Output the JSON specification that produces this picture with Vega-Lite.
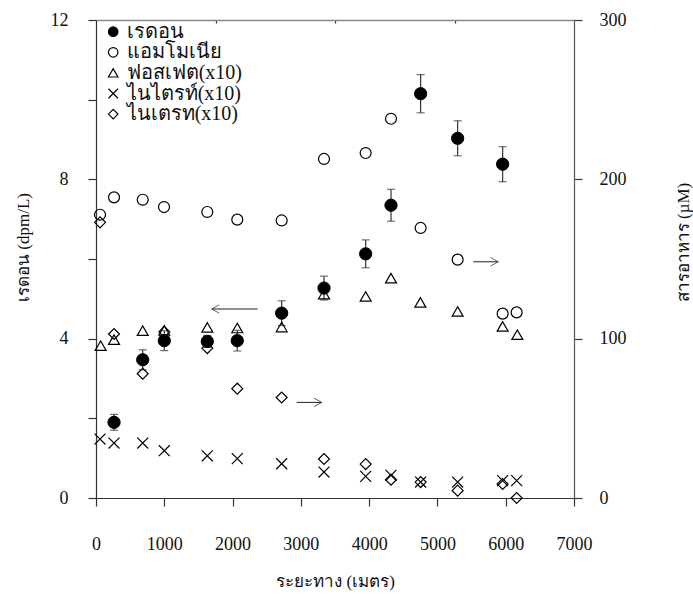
{
  "$schema": "https://vega.github.io/schema/vega-lite/v6.json",
  "width": 478,
  "height": 478,
  "autosize": {"type": "none"},
  "padding": {"left": 96, "top": 20, "right": 119, "bottom": 96},
  "background": "white",
  "config": {
    "view": {"stroke": null},
    "font": "Liberation Serif",
    "axis": {
      "labelFont": "Liberation Serif", "labelFontSize": 18, "labelColor": "#111",
      "titleFont": "Liberation Serif", "titleFontSize": 17, "titleColor": "#111", "titleFontWeight": "normal",
      "grid": false, "domainColor": "#333", "tickColor": "#333", "tickSize": 8,
      "domainWidth": 1.2, "tickWidth": 1.2, "labelFlush": false
    },
    "legend": {
      "orient": "none", "legendX": 7.2, "legendY": 1.7, "padding": 0,
      "labelFont": "Liberation Serif", "labelFontSize": 20, "labelColor": "#111",
      "symbolSize": 90, "symbolStrokeWidth": 1.2, "symbolStrokeColor": "black",
      "rowPadding": 0.6, "labelOffset": 3.5, "title": null
    }
  },
  "datasets": {
    "radon": [
      {"d": 264, "series": "เรดอน", "v": 1.90, "lo": 1.70, "hi": 2.10},
      {"d": 684, "series": "เรดอน", "v": 3.47, "lo": 3.22, "hi": 3.72},
      {"d": 1000, "series": "เรดอน", "v": 3.95, "lo": 3.70, "hi": 4.20},
      {"d": 1630, "series": "เรดอน", "v": 3.93, "lo": 3.78, "hi": 4.08},
      {"d": 2069, "series": "เรดอน", "v": 3.95, "lo": 3.69, "hi": 4.21},
      {"d": 2719, "series": "เรดอน", "v": 4.64, "lo": 4.33, "hi": 4.95},
      {"d": 3339, "series": "เรดอน", "v": 5.27, "lo": 4.97, "hi": 5.57},
      {"d": 3949, "series": "เรดอน", "v": 6.13, "lo": 5.78, "hi": 6.48},
      {"d": 4320, "series": "เรดอน", "v": 7.35, "lo": 6.95, "hi": 7.75},
      {"d": 4754, "series": "เรดอน", "v": 10.15, "lo": 9.67, "hi": 10.63},
      {"d": 5296, "series": "เรดอน", "v": 9.03, "lo": 8.59, "hi": 9.47},
      {"d": 5955, "series": "เรดอน", "v": 8.38, "lo": 7.94, "hi": 8.82}
    ],
    "nutrients": [
      {"d": 59, "series": "แอมโมเนีย", "v": 177.8},
      {"d": 264, "series": "แอมโมเนีย", "v": 188.7},
      {"d": 684, "series": "แอมโมเนีย", "v": 187.2},
      {"d": 996, "series": "แอมโมเนีย", "v": 182.6},
      {"d": 1630, "series": "แอมโมเนีย", "v": 179.5},
      {"d": 2069, "series": "แอมโมเนีย", "v": 174.7},
      {"d": 2719, "series": "แอมโมเนีย", "v": 174.2},
      {"d": 3339, "series": "แอมโมเนีย", "v": 212.8},
      {"d": 3949, "series": "แอมโมเนีย", "v": 216.5},
      {"d": 4320, "series": "แอมโมเนีย", "v": 238.0},
      {"d": 4754, "series": "แอมโมเนีย", "v": 169.5},
      {"d": 5296, "series": "แอมโมเนีย", "v": 149.6},
      {"d": 5955, "series": "แอมโมเนีย", "v": 115.7},
      {"d": 6160, "series": "แอมโมเนีย", "v": 116.5},
      {"d": 68, "series": "ฟอสเฟต(x10)", "v": 95.6},
      {"d": 264, "series": "ฟอสเฟต(x10)", "v": 99.4},
      {"d": 684, "series": "ฟอสเฟต(x10)", "v": 105.0},
      {"d": 1000, "series": "ฟอสเฟต(x10)", "v": 105.2},
      {"d": 1630, "series": "ฟอสเฟต(x10)", "v": 107.1},
      {"d": 2069, "series": "ฟอสเฟต(x10)", "v": 106.7},
      {"d": 2719, "series": "ฟอสเฟต(x10)", "v": 107.3},
      {"d": 3339, "series": "ฟอสเฟต(x10)", "v": 128.0},
      {"d": 3949, "series": "ฟอสเฟต(x10)", "v": 126.5},
      {"d": 4320, "series": "ฟอสเฟต(x10)", "v": 138.0},
      {"d": 4750, "series": "ฟอสเฟต(x10)", "v": 122.8},
      {"d": 5296, "series": "ฟอสเฟต(x10)", "v": 117.1},
      {"d": 5955, "series": "ฟอสเฟต(x10)", "v": 107.7},
      {"d": 6170, "series": "ฟอสเฟต(x10)", "v": 102.5},
      {"d": 59, "series": "ไนไตรท์(x10)", "v": 37.0},
      {"d": 264, "series": "ไนไตรท์(x10)", "v": 34.5},
      {"d": 684, "series": "ไนไตรท์(x10)", "v": 34.5},
      {"d": 1000, "series": "ไนไตรท์(x10)", "v": 29.7},
      {"d": 1630, "series": "ไนไตรท์(x10)", "v": 26.5},
      {"d": 2069, "series": "ไนไตรท์(x10)", "v": 24.7},
      {"d": 2719, "series": "ไนไตรท์(x10)", "v": 21.5},
      {"d": 3339, "series": "ไนไตรท์(x10)", "v": 16.3},
      {"d": 3949, "series": "ไนไตรท์(x10)", "v": 13.6},
      {"d": 4320, "series": "ไนไตรท์(x10)", "v": 14.2},
      {"d": 4754, "series": "ไนไตรท์(x10)", "v": 10.0},
      {"d": 5296, "series": "ไนไตรท์(x10)", "v": 10.0},
      {"d": 5955, "series": "ไนไตรท์(x10)", "v": 10.9},
      {"d": 6160, "series": "ไนไตรท์(x10)", "v": 10.9},
      {"d": 59, "series": "ไนเตรท(x10)", "v": 173.0},
      {"d": 264, "series": "ไนเตรท(x10)", "v": 102.9},
      {"d": 684, "series": "ไนเตรท(x10)", "v": 78.0},
      {"d": 1000, "series": "ไนเตรท(x10)", "v": 104.3},
      {"d": 1630, "series": "ไนเตรท(x10)", "v": 94.1},
      {"d": 2069, "series": "ไนเตรท(x10)", "v": 68.6},
      {"d": 2719, "series": "ไนเตรท(x10)", "v": 63.1},
      {"d": 3339, "series": "ไนเตรท(x10)", "v": 24.5},
      {"d": 3949, "series": "ไนเตรท(x10)", "v": 21.3},
      {"d": 4320, "series": "ไนเตรท(x10)", "v": 11.5},
      {"d": 4754, "series": "ไนเตรท(x10)", "v": 10.0},
      {"d": 5296, "series": "ไนเตรท(x10)", "v": 4.6},
      {"d": 5955, "series": "ไนเตรท(x10)", "v": 8.8},
      {"d": 6160, "series": "ไนเตรท(x10)", "v": 0.0}
    ],
    "arrows": [
      {"d": 1694, "d2": 2368, "v": 4.745, "dir": "L"},
      {"d": 3305, "d2": 2939, "v": 2.40, "dir": "R"},
      {"d": 5891, "d2": 5525, "v": 5.93, "dir": "R"}
    ]
  },
  "layer": [
    {
      "layer": [
        {
          "data": {"name": "arrows"},
          "mark": {"type": "rule", "stroke": "#222", "strokeWidth": 1},
          "encoding": {
            "x": {"field": "d", "type": "quantitative", "scale": {"domain": [0, 7000], "nice": false},
              "axis": {"orient": "bottom", "values": [0, 1000, 2000, 3000, 4000, 5000, 6000, 7000], "format": "d", "title": "ระยะทาง (เมตร)", "labelPadding": 29, "titleY": 83, "titleBaseline": "middle"}},
            "x2": {"field": "d2"},
            "y": {"field": "v", "type": "quantitative", "scale": {"domain": [0, 12], "nice": false},
              "axis": {"orient": "left", "values": [0, 2, 4, 6, 8, 10, 12], "labelExpr": "datum.value % 4 == 0 ? datum.label : ''", "title": "เรดอน (dpm/L)", "labelPadding": 20, "titleX": -73, "titleY": 227, "titleAngle": -90, "titleAlign": "center", "titleBaseline": "middle"}}
          }
        },
        {
          "data": {"name": "arrows"},
          "transform": [{"filter": "datum.dir == 'L'"}],
          "mark": {"type": "point", "shape": "M0,0L1,-0.55M0,0L1,0.55", "size": 230, "filled": false, "stroke": "#222", "strokeWidth": 1},
          "encoding": {
            "x": {"field": "d", "type": "quantitative", "scale": {"domain": [0, 7000], "nice": false},
              "axis": {"orient": "bottom", "values": [0, 1000, 2000, 3000, 4000, 5000, 6000, 7000], "format": "d", "title": "ระยะทาง (เมตร)", "labelPadding": 29, "titleY": 83, "titleBaseline": "middle"}},
            "y": {"field": "v", "type": "quantitative", "scale": {"domain": [0, 12], "nice": false},
              "axis": {"orient": "left", "values": [0, 2, 4, 6, 8, 10, 12], "labelExpr": "datum.value % 4 == 0 ? datum.label : ''", "title": "เรดอน (dpm/L)", "labelPadding": 20, "titleX": -73, "titleY": 227, "titleAngle": -90, "titleAlign": "center", "titleBaseline": "middle"}}
          }
        },
        {
          "data": {"name": "arrows"},
          "transform": [{"filter": "datum.dir == 'R'"}],
          "mark": {"type": "point", "shape": "M0,0L-1,-0.55M0,0L-1,0.55", "size": 230, "filled": false, "stroke": "#222", "strokeWidth": 1},
          "encoding": {
            "x": {"field": "d", "type": "quantitative", "scale": {"domain": [0, 7000], "nice": false},
              "axis": {"orient": "bottom", "values": [0, 1000, 2000, 3000, 4000, 5000, 6000, 7000], "format": "d", "title": "ระยะทาง (เมตร)", "labelPadding": 29, "titleY": 83, "titleBaseline": "middle"}},
            "y": {"field": "v", "type": "quantitative", "scale": {"domain": [0, 12], "nice": false},
              "axis": {"orient": "left", "values": [0, 2, 4, 6, 8, 10, 12], "labelExpr": "datum.value % 4 == 0 ? datum.label : ''", "title": "เรดอน (dpm/L)", "labelPadding": 20, "titleX": -73, "titleY": 227, "titleAngle": -90, "titleAlign": "center", "titleBaseline": "middle"}}
          }
        },
        {
          "data": {"name": "radon"},
          "mark": {"type": "rule", "stroke": "#333", "strokeWidth": 1.2},
          "encoding": {
            "x": {"field": "d", "type": "quantitative", "scale": {"domain": [0, 7000], "nice": false},
              "axis": {"orient": "bottom", "values": [0, 1000, 2000, 3000, 4000, 5000, 6000, 7000], "format": "d", "title": "ระยะทาง (เมตร)", "labelPadding": 29, "titleY": 83, "titleBaseline": "middle"}},
            "y": {"field": "lo", "type": "quantitative", "scale": {"domain": [0, 12], "nice": false},
              "axis": {"orient": "left", "values": [0, 2, 4, 6, 8, 10, 12], "labelExpr": "datum.value % 4 == 0 ? datum.label : ''", "title": "เรดอน (dpm/L)", "labelPadding": 20, "titleX": -73, "titleY": 227, "titleAngle": -90, "titleAlign": "center", "titleBaseline": "middle"}},
            "y2": {"field": "hi"}
          }
        },
        {
          "data": {"name": "radon"},
          "mark": {"type": "tick", "orient": "horizontal", "color": "#333", "size": 8, "thickness": 1.2},
          "encoding": {
            "x": {"field": "d", "type": "quantitative", "scale": {"domain": [0, 7000], "nice": false},
              "axis": {"orient": "bottom", "values": [0, 1000, 2000, 3000, 4000, 5000, 6000, 7000], "format": "d", "title": "ระยะทาง (เมตร)", "labelPadding": 29, "titleY": 83, "titleBaseline": "middle"}},
            "y": {"field": "lo", "type": "quantitative", "scale": {"domain": [0, 12], "nice": false},
              "axis": {"orient": "left", "values": [0, 2, 4, 6, 8, 10, 12], "labelExpr": "datum.value % 4 == 0 ? datum.label : ''", "title": "เรดอน (dpm/L)", "labelPadding": 20, "titleX": -73, "titleY": 227, "titleAngle": -90, "titleAlign": "center", "titleBaseline": "middle"}}
          }
        },
        {
          "data": {"name": "radon"},
          "mark": {"type": "tick", "orient": "horizontal", "color": "#333", "size": 8, "thickness": 1.2},
          "encoding": {
            "x": {"field": "d", "type": "quantitative", "scale": {"domain": [0, 7000], "nice": false},
              "axis": {"orient": "bottom", "values": [0, 1000, 2000, 3000, 4000, 5000, 6000, 7000], "format": "d", "title": "ระยะทาง (เมตร)", "labelPadding": 29, "titleY": 83, "titleBaseline": "middle"}},
            "y": {"field": "hi", "type": "quantitative", "scale": {"domain": [0, 12], "nice": false},
              "axis": {"orient": "left", "values": [0, 2, 4, 6, 8, 10, 12], "labelExpr": "datum.value % 4 == 0 ? datum.label : ''", "title": "เรดอน (dpm/L)", "labelPadding": 20, "titleX": -73, "titleY": 227, "titleAngle": -90, "titleAlign": "center", "titleBaseline": "middle"}}
          }
        },
        {
          "data": {"name": "radon"},
          "mark": {"type": "point", "filled": true, "size": 150, "strokeWidth": 1, "opacity": 1},
          "encoding": {
            "x": {"field": "d", "type": "quantitative", "scale": {"domain": [0, 7000], "nice": false},
              "axis": {"orient": "bottom", "values": [0, 1000, 2000, 3000, 4000, 5000, 6000, 7000], "format": "d", "title": "ระยะทาง (เมตร)", "labelPadding": 29, "titleY": 83, "titleBaseline": "middle"}},
            "y": {"field": "v", "type": "quantitative", "scale": {"domain": [0, 12], "nice": false},
              "axis": {"orient": "left", "values": [0, 2, 4, 6, 8, 10, 12], "labelExpr": "datum.value % 4 == 0 ? datum.label : ''", "title": "เรดอน (dpm/L)", "labelPadding": 20, "titleX": -73, "titleY": 227, "titleAngle": -90, "titleAlign": "center", "titleBaseline": "middle"}},
            "shape": {"field": "series", "type": "nominal",
              "scale": {"domain": ["เรดอน", "แอมโมเนีย", "ฟอสเฟต(x10)", "ไนไตรท์(x10)", "ไนเตรท(x10)"], "range": ["circle", "circle", "triangle-up", "M-1,-1L1,1M-1,1L1,-1", "diamond"]}},
            "fill": {"field": "series", "type": "nominal",
              "scale": {"domain": ["เรดอน", "แอมโมเนีย", "ฟอสเฟต(x10)", "ไนไตรท์(x10)", "ไนเตรท(x10)"], "range": ["black", "transparent", "transparent", "transparent", "transparent"]}},
            "stroke": {"field": "series", "type": "nominal",
              "scale": {"domain": ["เรดอน", "แอมโมเนีย", "ฟอสเฟต(x10)", "ไนไตรท์(x10)", "ไนเตรท(x10)"], "range": ["black", "black", "black", "black", "black"]}}
          }
        }
      ]
    },
    {
      "data": {"name": "nutrients"},
      "mark": {"type": "point", "filled": true, "size": 120, "strokeWidth": 1.2, "opacity": 1},
      "encoding": {
        "x": {"field": "d", "type": "quantitative", "scale": {"domain": [0, 7000], "nice": false},
          "axis": {"orient": "top", "values": [1750, 3500, 5250], "labels": false, "title": null, "tickSize": -3, "domainColor": "#888", "domainWidth": 1.5}},
        "y": {"field": "v", "type": "quantitative", "scale": {"domain": [0, 300], "nice": false},
          "axis": {"orient": "right", "values": [0, 100, 200, 300], "title": "สารอาหาร (µM)", "labelPadding": 17, "titleX": 109, "titleY": 222, "titleAngle": -90, "titleAlign": "center", "titleBaseline": "middle", "domainColor": "#555"}},
        "shape": {"field": "series", "type": "nominal",
          "scale": {"domain": ["เรดอน", "แอมโมเนีย", "ฟอสเฟต(x10)", "ไนไตรท์(x10)", "ไนเตรท(x10)"], "range": ["circle", "circle", "triangle-up", "M-1,-1L1,1M-1,1L1,-1", "diamond"]}},
        "fill": {"field": "series", "type": "nominal",
          "scale": {"domain": ["เรดอน", "แอมโมเนีย", "ฟอสเฟต(x10)", "ไนไตรท์(x10)", "ไนเตรท(x10)"], "range": ["black", "transparent", "transparent", "transparent", "transparent"]}},
        "stroke": {"field": "series", "type": "nominal",
          "scale": {"domain": ["เรดอน", "แอมโมเนีย", "ฟอสเฟต(x10)", "ไนไตรท์(x10)", "ไนเตรท(x10)"], "range": ["black", "black", "black", "black", "black"]}}
      }
    }
  ],
  "resolve": {"scale": {"y": "independent"}, "axis": {"x": "independent"}}
}
